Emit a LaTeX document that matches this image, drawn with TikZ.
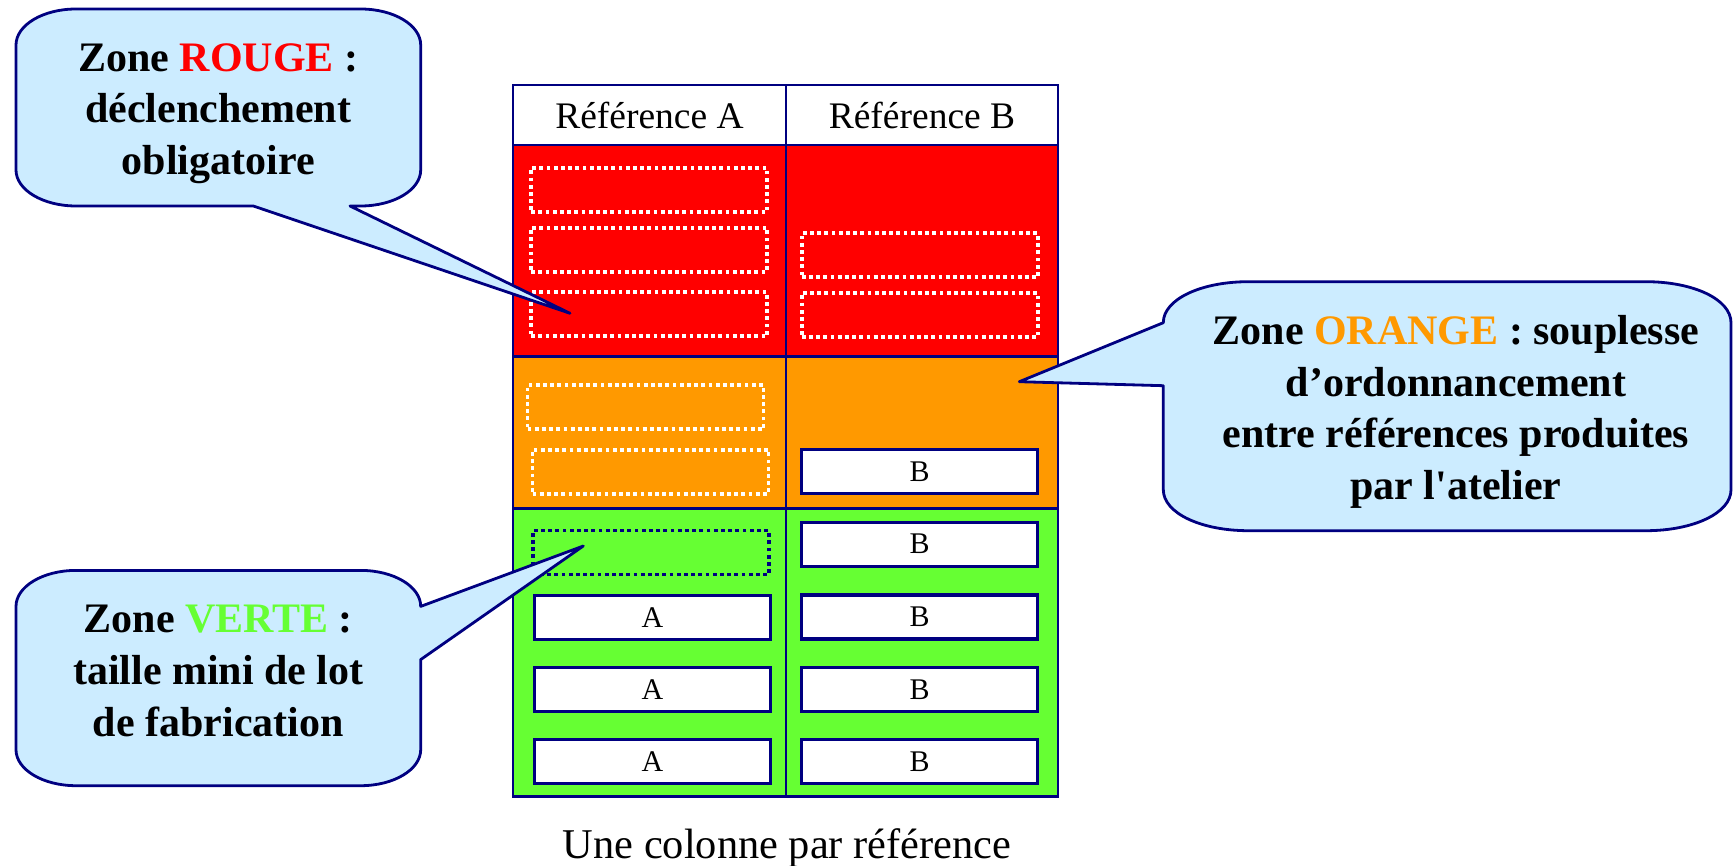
\documentclass[tikz,border=0pt]{standalone}
\usepackage{fontspec}
\setmainfont{Liberation Serif}
\definecolor{navy}{HTML}{000080}
\definecolor{bulle}{HTML}{CCECFF}
\definecolor{zrouge}{HTML}{FF0000}
\definecolor{zorange}{HTML}{FF9900}
\definecolor{zvert}{HTML}{66FF33}
\begin{document}
\begin{tikzpicture}[x=0.5pt,y=-0.5pt,
  bulle/.style={draw=navy,fill=bulle,line width=1.4pt,line join=round},
  cellule/.style={draw=navy,line width=1.3pt},
  lot/.style={draw=navy,fill=white,line width=1.6pt,minimum width=118pt,minimum height=22pt,inner sep=0pt,font=\fontsize{15pt}{18pt}\selectfont},
  vide/.style={line width=1.9pt,dash pattern=on 1.9pt off 1.7pt,minimum width=118pt,minimum height=22pt,inner sep=0pt},
  titre/.style={font=\bfseries\fontsize{21pt}{25.85pt}\selectfont,align=center,inner sep=0pt}]
\useasboundingbox (0,0) rectangle (1735,866);
% the three zones
\fill [white] (513,85) rectangle (1058,145);
\fill [zrouge] (513,145) rectangle (1058,356.5);
\fill [zorange] (513,356.5) rectangle (1058,508.3);
\fill [zvert] (513,508.3) rectangle (1058,796.7);
\draw [cellule] (513,85) rectangle (1058,796.7);
\draw [cellule] (513,145) -- (1058,145);
\draw [cellule] (513,356.5) -- (1058,356.5);
\draw [cellule] (513,508.3) -- (1058,508.3);
\draw [cellule] (786,85) -- (786,796.7);
\node [anchor=base,font=\fontsize{18.75pt}{22pt}\selectfont] (refA) at (649.5,129) {Référence A};
\node [anchor=base,font=\fontsize{18.75pt}{22pt}\selectfont] (refB) at (922,129) {Référence B};
% empty places (dotted)
\foreach \y [count=\i] in {190,249.7,314.2}
  \node [vide,draw=white] (rA\i) at (649.2,\y) {};
\foreach \y [count=\i] in {255.3,315}
  \node [vide,draw=white] (rB\i) at (919.7,\y) {};
\node [vide,draw=white] (oA1) at (645.5,407.2) {};
\node [vide,draw=white] (oA2) at (650.5,471.7) {};
\node [vide,draw=navy] (vA0) at (650.8,552.5) {};
% kanban cards
\node [lot] (oB1) at (919.7,471.3) {B};
\foreach \y [count=\i] in {617.3,689.3,761.7}
  \node [lot] (vA\i) at (652.5,\y) {A};
\foreach \y [count=\i] in {544.2,617,689.3,761.7}
  \node [lot] (vB\i) at (919.7,\y) {B};
\node [anchor=base,font=\fontsize{21.2pt}{25pt}\selectfont] (legende) at (787,858.3) {Une colonne par référence};
% callouts
\coordinate (pRouge) at (570,313.3);
\coordinate (pOrange) at (1019.3,381.7);
\coordinate (pVert) at (583.3,546);
\draw [bulle] (76,9) -- (360.7,9) .. controls (393.8,9) and (420.7,25.1) .. (420.7,45)
  -- (420.7,170) .. controls (420.7,189.9) and (393.8,206) .. (360.7,206)
  -- (350,206) -- (pRouge) -- (253.3,206)
  -- (76,206) .. controls (42.9,206) and (16,189.9) .. (16,170)
  -- (16,45) .. controls (16,25.1) and (42.9,9) .. (76,9) -- cycle;
\node [titre] (tRouge) at (218.3,113.6) {Zone \textcolor{zrouge}{ROUGE} :\\déclenchement\\obligatoire};
\draw [bulle] (1248.3,281.7) -- (1646,281.7) .. controls (1692.9,281.7) and (1731,299.1) .. (1731,322.7)
  -- (1731,489.7) .. controls (1731,513.3) and (1692.9,530.7) .. (1646,530.7)
  -- (1248.3,530.7) .. controls (1201.4,530.7) and (1163.3,513.3) .. (1163.3,489.7)
  -- (1163.3,385.7) -- (pOrange) -- (1163.3,322.7)
  .. controls (1163.3,299.1) and (1201.4,281.7) .. (1248.3,281.7) -- cycle;
\node [titre] (tOrange) at (1456,411.9) {Zone \textcolor{zorange}{ORANGE} : souplesse\\d’ordonnancement\\entre références produites\\par l\textquotesingle atelier};
\draw [bulle] (76,570.4) -- (360.7,570.4) .. controls (393.8,570.4) and (420.7,586.5) .. (420.7,606.4)
  -- (pVert) -- (420.7,659.6)
  -- (420.7,749.7) .. controls (420.7,769.6) and (393.8,785.7) .. (360.7,785.7)
  -- (76,785.7) .. controls (42.9,785.7) and (16,769.6) .. (16,749.7)
  -- (16,606.4) .. controls (16,586.5) and (42.9,570.4) .. (76,570.4) -- cycle;
\node [titre] (tVert) at (218.3,671) {Zone \textcolor{zvert}{VERTE} :\\taille mini de lot\\de fabrication};
\end{tikzpicture}
\end{document}
